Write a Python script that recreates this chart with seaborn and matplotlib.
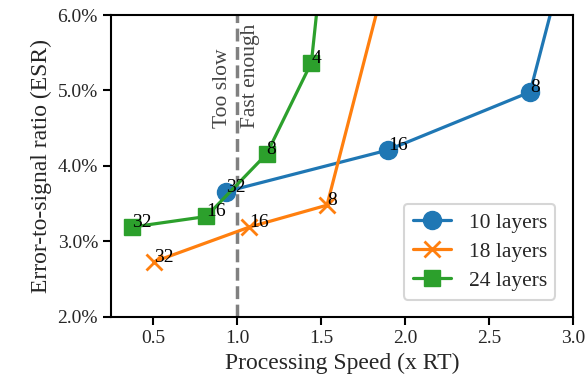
import numpy as np
import pandas as pd
import matplotlib
matplotlib.use("Agg")
import matplotlib.pyplot as plt
from matplotlib.ticker import FuncFormatter
import seaborn as sns

# Processing speed (x real time) and ESR (%) per model depth, one point per channel count
channels_10 = ["32", "16", "8", "4"]
speed_10 = [0.935, 1.898, 2.746, 3.10]
esr_10 = [3.66, 4.21, 4.98, 8.0]

channels_18 = ["32", "16", "8", "4"]
speed_18 = [0.505, 1.074, 1.536, 2.06]
esr_18 = [2.73, 3.19, 3.48, 8.0]

channels_24 = ["32", "16", "8", "4", "2"]
speed_24 = [0.374, 0.817, 1.177, 1.443, 1.568]
esr_24 = [3.19, 3.33, 4.16, 5.37, 8.0]

series_names = ["10 layers", "18 layers", "24 layers"]

realtime_threshold = 1.0
x_ticks = [0.5, 1.0, 1.5, 2.0, 2.5, 3.0]
y_ticks = [2.0, 3.0, 4.0, 5.0, 6.0]
x_range = (0.25, 3.0)
y_range = (2.0, 6.0)

frames = []
for name, ch, sp, es in zip(series_names,
                            [channels_10, channels_18, channels_24],
                            [speed_10, speed_18, speed_24],
                            [esr_10, esr_18, esr_24]):
    frames.append(pd.DataFrame({"layers": name, "channels": ch, "speed": sp, "esr": es}))
df = pd.concat(frames, ignore_index=True)

sns.set_theme(style="ticks")
plt.rcParams["font.family"] = ["Liberation Serif", "DejaVu Serif"]
plt.rcParams["mathtext.fontset"] = "stix"

fig, ax = plt.subplots(figsize=(5.85, 3.85), dpi=100)
fig.subplots_adjust(left=0.19, right=0.979, top=0.961, bottom=0.177)

palette = sns.color_palette("tab10", 3)
marker_styles = {"10 layers": dict(marker="o", markersize=13, markeredgewidth=1.0),
                 "18 layers": dict(marker="x", markersize=12, markeredgewidth=2.0),
                 "24 layers": dict(marker="s", markersize=12, markeredgewidth=1.0)}

for name, color in zip(series_names, palette):
    sub = df[df["layers"] == name]
    sns.lineplot(data=sub, x="speed", y="esr", sort=False, color=color,
                 linewidth=2.3, label=name, markeredgecolor=color,
                 ax=ax, **marker_styles[name])

# channel-count labels next to each visible point
visible = df[(df["esr"] <= y_range[1]) & (df["speed"] <= x_range[1])]
for _, row in visible.iterrows():
    ax.text(row["speed"], row["esr"], row["channels"], fontsize=14,
            ha="left", va="baseline", color="black", zorder=5)

ax.axvline(realtime_threshold, color="grey", linestyle="--", linewidth=2.5, zorder=1)
ax.text(realtime_threshold - 0.03, 4.5, "Too slow", rotation=90, ha="right", va="bottom",
        fontsize=15.5, color="#444444")
ax.text(realtime_threshold + 0.025, 4.5, "Fast enough", rotation=90, ha="left", va="bottom",
        fontsize=15.5, color="#444444")

ax.set_xlim(*x_range)
ax.set_ylim(*y_range)
ax.set_xticks(x_ticks)
ax.set_yticks(y_ticks)
ax.yaxis.set_major_formatter(FuncFormatter(lambda v, _: f"{v:.1f}%"))
ax.tick_params(axis="both", labelsize=14, length=6, width=1.5, color="black")
for s in ax.spines.values():
    s.set_color("black")
    s.set_linewidth(1.5)
ax.set_xlabel("Processing Speed (x RT)", fontsize=17)
ax.set_ylabel("Error-to-signal ratio (ESR)", fontsize=17)

leg = ax.legend(loc="lower right", fontsize=15.5, frameon=True, fancybox=True,
                handlelength=1.8, borderpad=0.4, labelspacing=0.42,
                borderaxespad=0.8)
leg.get_frame().set_edgecolor("#cccccc")
leg.get_frame().set_linewidth(1.5)

fig.savefig("out.png", dpi=100)
